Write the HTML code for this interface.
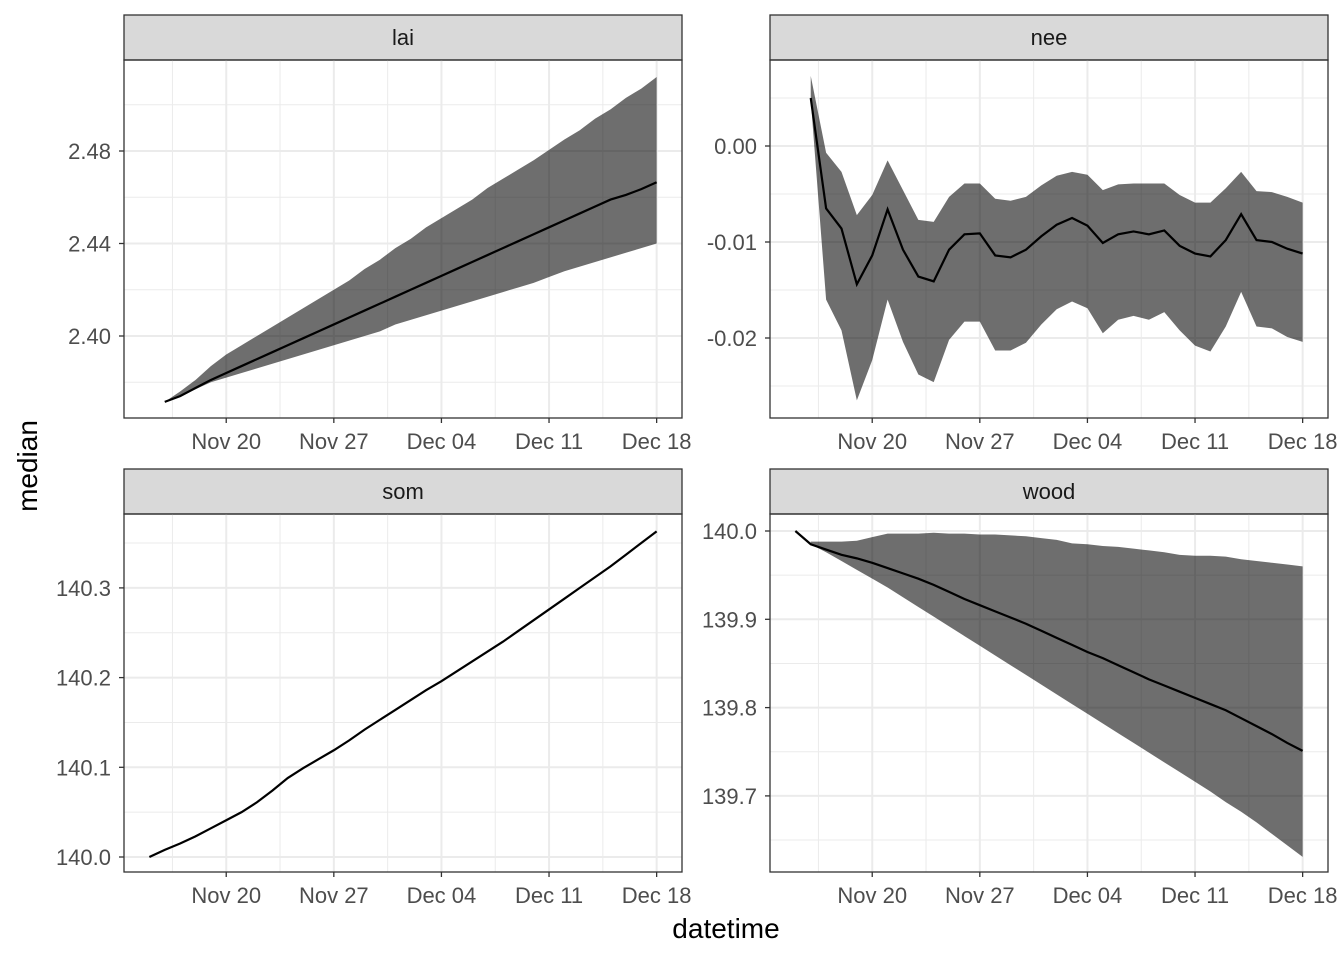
<!DOCTYPE html>
<html><head><meta charset="utf-8"><style>
body{margin:0;background:#fff;}
svg{display:block;font-family:"Liberation Sans",sans-serif;}
</style></head><body>
<svg id="c" width="1344" height="960" xmlns="http://www.w3.org/2000/svg"></svg>
<script>
// day offsets from Nov 15
const dateLabels = ["Nov 20","Nov 27","Dec 04","Dec 11","Dec 18"];
const dateDays = [5,12,19,26,33];
const laiMedian = [2.3715,2.374,2.3775,2.381,2.384,2.387,2.390,2.393,2.396,2.399,2.402,2.405,2.408,2.411,2.414,2.417,2.420,2.423,2.426,2.429,2.432,2.435,2.438,2.441,2.444,2.447,2.450,2.453,2.456,2.459,2.461,2.4635,2.4665];
const laiUpper = [2.3715,2.376,2.381,2.387,2.392,2.396,2.400,2.404,2.408,2.412,2.416,2.420,2.424,2.429,2.433,2.438,2.442,2.447,2.451,2.455,2.459,2.464,2.468,2.472,2.476,2.4805,2.485,2.489,2.494,2.498,2.503,2.507,2.512];
const laiLower = [2.3715,2.374,2.377,2.380,2.382,2.384,2.386,2.388,2.390,2.392,2.394,2.396,2.398,2.400,2.402,2.405,2.407,2.409,2.411,2.413,2.415,2.417,2.419,2.421,2.423,2.4255,2.428,2.430,2.432,2.434,2.436,2.438,2.440];
const neeMedian = [0.005,-0.0065,-0.0086,-0.0144,-0.0114,-0.0066,-0.0108,-0.0136,-0.0141,-0.0108,-0.0092,-0.0091,-0.0114,-0.0116,-0.0108,-0.0094,-0.0082,-0.0075,-0.0083,-0.0101,-0.0092,-0.0089,-0.0092,-0.0088,-0.0104,-0.0112,-0.0115,-0.0098,-0.0071,-0.0098,-0.0100,-0.0107,-0.0112];
const neeUpper = [0.0073,-0.0007,-0.0027,-0.0072,-0.0051,-0.0015,-0.0046,-0.0077,-0.0079,-0.0053,-0.0039,-0.0039,-0.0055,-0.0057,-0.0053,-0.0041,-0.0031,-0.0027,-0.0030,-0.0046,-0.0040,-0.0039,-0.0039,-0.0039,-0.0051,-0.0059,-0.0059,-0.0044,-0.0027,-0.0047,-0.0048,-0.0053,-0.0059];
const neeLower = [0.0048,-0.016,-0.0192,-0.0265,-0.0223,-0.016,-0.0204,-0.0238,-0.0246,-0.0202,-0.0183,-0.0183,-0.0213,-0.0213,-0.0205,-0.0186,-0.017,-0.0162,-0.0169,-0.0195,-0.0181,-0.0177,-0.0181,-0.0173,-0.0192,-0.0208,-0.0214,-0.0188,-0.0152,-0.0188,-0.019,-0.0199,-0.0204];
const somMedian = [140.000,140.008,140.015,140.023,140.032,140.041,140.050,140.061,140.074,140.088,140.099,140.109,140.119,140.130,140.142,140.153,140.164,140.175,140.186,140.196,140.207,140.218,140.229,140.240,140.252,140.264,140.276,140.288,140.300,140.312,140.324,140.337,140.350,140.363];
const woodMedian = [140.000,139.985,139.979,139.973,139.969,139.964,139.958,139.952,139.946,139.939,139.931,139.923,139.916,139.909,139.902,139.895,139.887,139.879,139.871,139.863,139.856,139.848,139.840,139.832,139.825,139.818,139.811,139.804,139.797,139.788,139.779,139.770,139.760,139.751];
const woodUpper = [139.988,139.988,139.988,139.989,139.993,139.997,139.997,139.997,139.998,139.997,139.997,139.996,139.996,139.995,139.994,139.992,139.990,139.986,139.985,139.983,139.982,139.980,139.978,139.976,139.973,139.972,139.972,139.971,139.968,139.966,139.964,139.962,139.960];
const woodLower = [139.985,139.976,139.966,139.956,139.946,139.936,139.925,139.914,139.903,139.892,139.881,139.870,139.859,139.848,139.837,139.826,139.815,139.804,139.793,139.782,139.771,139.760,139.749,139.738,139.727,139.716,139.705,139.693,139.682,139.670,139.657,139.644,139.631];
const laiTicks = [2.40,2.44,2.48], laiTickLabels = ["2.40","2.44","2.48"];
const neeTicks = [-0.02,-0.01,0.00], neeTickLabels = ["-0.02","-0.01","0.00"];
const somTicks = [140.0,140.1,140.2,140.3], somTickLabels = ["140.0","140.1","140.2","140.3"];
const woodTicks = [139.7,139.8,139.9,140.0], woodTickLabels = ["139.7","139.8","139.9","140.0"];

const svg = document.getElementById('c');
const NS = 'http://www.w3.org/2000/svg';
function mk(tag, attrs, parent){const e=document.createElementNS(NS,tag);for(const k in attrs)e.setAttribute(k,attrs[k]);(parent||svg).appendChild(e);return e;}

const panels = [
 {name:'lai', x0:124, y0:60, y1:418, sy0:15, map:v=>336-(v-2.40)*2312.5, ticks:laiTicks, labels:laiTickLabels, med:laiMedian, up:laiUpper, lo:laiLower, start:1, bandStart:1},
 {name:'nee', x0:770, y0:60, y1:418, sy0:15, map:v=>146-v*9600, ticks:neeTicks, labels:neeTickLabels, med:neeMedian, up:neeUpper, lo:neeLower, start:1, bandStart:1},
 {name:'som', x0:124, y0:514, y1:872, sy0:469, map:v=>857-(v-140)*897, ticks:somTicks, labels:somTickLabels, med:somMedian, up:null, lo:null, start:0},
 {name:'wood', x0:770, y0:514, y1:872, sy0:469, map:v=>531+(140-v)*883, ticks:woodTicks, labels:woodTickLabels, med:woodMedian, up:woodUpper, lo:woodLower, start:0, bandStart:1}
];
const W = 558, dMin=-1.65, dMax=34.65;
panels.forEach(p=>{
  const g = mk('g',{});
  
  
  const xs = d=>p.x0+(d-dMin)/(dMax-dMin)*W;
  const s = mk('rect',{x:p.x0,y:p.sy0,width:W,height:p.y0-p.sy0,fill:'#d9d9d9',stroke:'#333','stroke-width':1.3},g);
  
  
  const st = mk('text',{x:p.x0+W/2,y:p.sy0+30,'text-anchor':'middle','font-size':22,fill:'#1a1a1a'},g);
  st.textContent=p.name;
  
  
  const step = p.ticks[1]-p.ticks[0];
  for(let i=-1;i<p.ticks.length;i++){
    const v=p.ticks[0]+step*(i+0.5), y=p.map(v);
    if(y>p.y0&&y<p.y1) mk('line',{x1:p.x0,x2:p.x0+W,y1:y,y2:y,stroke:'#ebebeb','stroke-width':1},g);
  }
  for(let i=-1;i<dateDays.length;i++){
    const x=xs(dateDays[0]+7*(i+0.5));
    if(x>p.x0&&x<p.x0+W) mk('line',{x1:x,x2:x,y1:p.y0,y2:p.y1,stroke:'#ebebeb','stroke-width':1},g);
  }
  p.ticks.forEach((v,i)=>{const y=p.map(v);mk('line',{x1:p.x0,x2:p.x0+W,y1:y,y2:y,stroke:'#ebebeb','stroke-width':2},g);
    mk('line',{x1:p.x0-5,x2:p.x0,y1:y,y2:y,stroke:'#333','stroke-width':1.3},g);
    const t=mk('text',{x:p.x0-13,y:y+8,'text-anchor':'end','font-size':22,fill:'#4d4d4d'},g);t.textContent=p.labels[i];
    
    
  });
  dateDays.forEach((d,i)=>{const x=xs(d);mk('line',{x1:x,x2:x,y1:p.y0,y2:p.y1,stroke:'#ebebeb','stroke-width':2},g);
    mk('line',{x1:x,x2:x,y1:p.y1,y2:p.y1+5,stroke:'#333','stroke-width':1.3},g);
    const t=mk('text',{x:x,y:p.y1+31,'text-anchor':'middle','font-size':22,fill:'#4d4d4d'},g);t.textContent=dateLabels[i];
    
    
  });
  if(p.up){
    let pts=p.up.map((v,i)=>xs(p.bandStart+i)+','+p.map(v));
    pts=pts.concat(p.lo.map((v,i)=>xs(p.bandStart+i)+','+p.map(v)).reverse());
    const b=mk('polygon',{points:pts.join(' '),fill:'#000','fill-opacity':0.57},g);
    
    
  }
  const l=mk('polyline',{points:p.med.map((v,i)=>xs(p.start+i)+','+p.map(v)).join(' '),fill:'none',stroke:'#000','stroke-width':2.2},g);
  
  
  mk('rect',{x:p.x0,y:p.y0,width:W,height:p.y1-p.y0,fill:'none',stroke:'#333','stroke-width':1.3},g);
});
const xt=mk('text',{x:726,y:938,'text-anchor':'middle','font-size':28,fill:'#000'});
xt.textContent='datetime';


const yt=mk('text',{x:0,y:0,'text-anchor':'middle','font-size':28,fill:'#000',transform:'translate(37,466) rotate(-90)'});
yt.textContent='median';


</script>
</body></html>
